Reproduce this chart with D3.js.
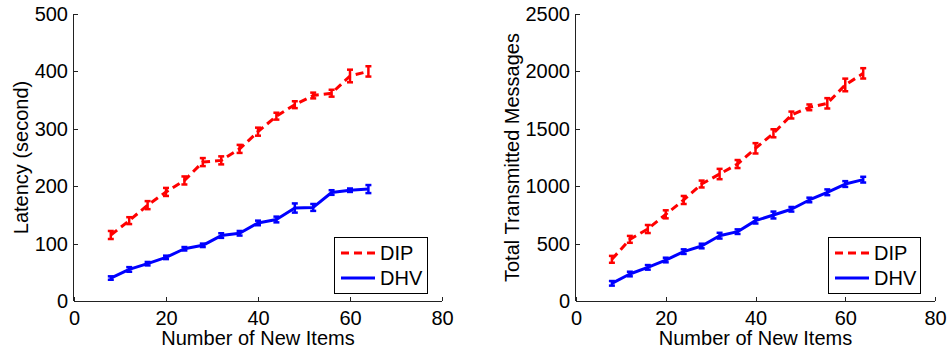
<!DOCTYPE html>
<html>
<head>
<meta charset="utf-8">
<script src="https://cdn.jsdelivr.net/npm/d3@7"></script>
<style>
  html, body { margin: 0; padding: 0; background: #fff; }
  svg { display: block; font-family: "Liberation Sans", Arial, Helvetica, sans-serif; }
</style>
</head>
<body>
<svg id="chart" width="947" height="352"></svg>
<script>
// ---------------- data ----------------
const items = [8, 12, 16, 20, 24, 28, 32, 36, 40, 44, 48, 52, 56, 60, 64];
const seriesNames = ["DIP", "DHV"];

const latencyDIP    = [115, 140, 167, 190, 210, 242, 245, 265, 295, 322, 342, 358, 362, 392, 400];
const latencyDIPErr = [7, 6, 7, 7, 7, 7, 7, 7, 7, 6, 6, 5, 6, 11, 9];
const latencyDHV    = [40, 55, 65, 76, 91, 97, 114, 118, 136, 142, 162, 163, 189, 193, 195];
const latencyDHVErr = [3, 4, 3, 3, 3, 3, 4, 4, 4, 5, 8, 6, 4, 3, 7];

const msgDIP    = [363, 537, 627, 755, 880, 1019, 1106, 1193, 1330, 1461, 1620, 1687, 1722, 1882, 1983];
const msgDIPErr = [30, 30, 35, 35, 35, 30, 45, 35, 45, 35, 30, 25, 45, 55, 45];
const msgDHV    = [154, 235, 293, 357, 430, 479, 569, 604, 700, 749, 799, 880, 947, 1019, 1057];
const msgDHVErr = [20, 20, 20, 20, 20, 20, 25, 20, 25, 30, 20, 20, 25, 25, 25];

const xTicks = [0, 20, 40, 60, 80];
const latencyTicks = [0, 100, 200, 300, 400, 500];
const msgTicks = [0, 500, 1000, 1500, 2000, 2500];

const xLabel = "Number of New Items";
const latencyLabel = "Latency (second)";
const msgLabel = "Total Transmitted Messages";

// ---------------- drawing ----------------
const svg = d3.select("#chart");
const colors = { DIP: "#ff0000", DHV: "#0000ff" };
const dashes = { DIP: "8,5", DHV: null };

function panel(cfg) {
  const g = svg.append("g");
  const x = d3.scaleLinear().domain([0, 80]).range([cfg.left, cfg.right]);
  const y = d3.scaleLinear().domain([0, cfg.ymax]).range([cfg.bottom, cfg.top]);

  // axes
  const axisColor = "#222";
  const xa = g.append("g").attr("transform", `translate(0,${cfg.bottom})`)
    .call(d3.axisBottom(x).tickValues(cfg.xTicks).tickSize(0).tickPadding(10).tickFormat(d3.format("d")));
  xa.select(".domain").remove();
  xa.selectAll("text").attr("font-size", 20).attr("fill", "#000").attr("font-family", "Liberation Sans, Arial, sans-serif");
  const ya = g.append("g").attr("transform", `translate(${cfg.left},0)`)
    .call(d3.axisLeft(y).tickValues(cfg.yTicks).tickSize(0).tickPadding(6).tickFormat(d3.format("d")));
  ya.select(".domain").remove();
  ya.selectAll("text").attr("font-size", 20).attr("fill", "#000").attr("font-family", "Liberation Sans, Arial, sans-serif");

  // axis lines
  g.append("line").attr("x1", cfg.left).attr("x2", cfg.right).attr("y1", cfg.bottom + 0.5).attr("y2", cfg.bottom + 0.5)
    .attr("stroke", axisColor).attr("stroke-width", 1);
  g.append("line").attr("x1", cfg.left - 0.5).attr("x2", cfg.left - 0.5).attr("y1", cfg.top).attr("y2", cfg.bottom)
    .attr("stroke", axisColor).attr("stroke-width", 1);
  // inward ticks
  g.selectAll(".xt").data(cfg.xTicks).enter().append("line")
    .attr("x1", d => Math.round(x(d)) + 0.5).attr("x2", d => Math.round(x(d)) + 0.5)
    .attr("y1", cfg.bottom).attr("y2", cfg.bottom - 4).attr("stroke", axisColor);
  g.selectAll(".yt").data(cfg.yTicks).enter().append("line")
    .attr("x1", cfg.left).attr("x2", cfg.left + 4)
    .attr("y1", d => Math.round(y(d)) + 0.5).attr("y2", d => Math.round(y(d)) + 0.5).attr("stroke", axisColor);

  // labels
  g.append("text").attr("x", (cfg.left + cfg.right) / 2).attr("y", 345)
    .attr("text-anchor", "middle").attr("font-size", 20).text(xLabel);
  g.append("text").attr("transform", `translate(${cfg.ylabelX},${(cfg.top + cfg.bottom) / 2}) rotate(-90)`)
    .attr("text-anchor", "middle").attr("dominant-baseline", "central").attr("font-size", 20).text(cfg.ylabel);

  // series
  cfg.series.forEach(s => {
    const pts = items.map((v, i) => ({ x: v, y: s.values[i], e: s.err[i] }));
    const line = d3.line().x(d => x(d.x)).y(d => y(d.y));
    g.append("path").datum(pts).attr("d", line).attr("fill", "none")
      .attr("stroke", colors[s.name]).attr("stroke-width", 3)
      .attr("stroke-dasharray", dashes[s.name]).attr("stroke-linejoin", "round");
    const eb = g.append("g").attr("stroke", colors[s.name]).attr("stroke-width", 2.5);
    pts.forEach(d => {
      eb.append("line").attr("x1", x(d.x)).attr("x2", x(d.x)).attr("y1", y(d.y - d.e)).attr("y2", y(d.y + d.e));
      eb.append("line").attr("x1", x(d.x) - 3).attr("x2", x(d.x) + 3).attr("y1", y(d.y - d.e)).attr("y2", y(d.y - d.e));
      eb.append("line").attr("x1", x(d.x) - 3).attr("x2", x(d.x) + 3).attr("y1", y(d.y + d.e)).attr("y2", y(d.y + d.e));
    });
  });

  // legend
  const L = cfg.legend;
  g.append("rect").attr("x", L.x + 0.5).attr("y", L.y + 0.5).attr("width", L.w).attr("height", L.h)
    .attr("fill", "#fff").attr("stroke", "#000").attr("stroke-width", 1);
  seriesNames.forEach((n, i) => {
    const yy = L.y + 16 + i * 25;
    g.append("line").attr("x1", L.x + 7).attr("x2", L.x + 41).attr("y1", yy).attr("y2", yy)
      .attr("stroke", colors[n]).attr("stroke-width", 3).attr("stroke-dasharray", dashes[n]);
    g.append("text").attr("x", L.x + 46).attr("y", yy).attr("dominant-baseline", "central")
      .attr("font-size", 20).text(n);
  });
}

panel({
  left: 74, right: 442, top: 14, bottom: 301, ymax: 500,
  xTicks: xTicks, yTicks: latencyTicks, ylabel: latencyLabel, ylabelX: 21,
  series: [
    { name: "DIP", values: latencyDIP, err: latencyDIPErr },
    { name: "DHV", values: latencyDHV, err: latencyDHVErr }
  ],
  legend: { x: 334, y: 237, w: 93, h: 56 }
});

panel({
  left: 576, right: 935, top: 14, bottom: 301, ymax: 2500,
  xTicks: xTicks, yTicks: msgTicks, ylabel: msgLabel, ylabelX: 512,
  series: [
    { name: "DIP", values: msgDIP, err: msgDIPErr },
    { name: "DHV", values: msgDHV, err: msgDHVErr }
  ],
  legend: { x: 828, y: 237, w: 92, h: 56 }
});
</script>
</body>
</html>
